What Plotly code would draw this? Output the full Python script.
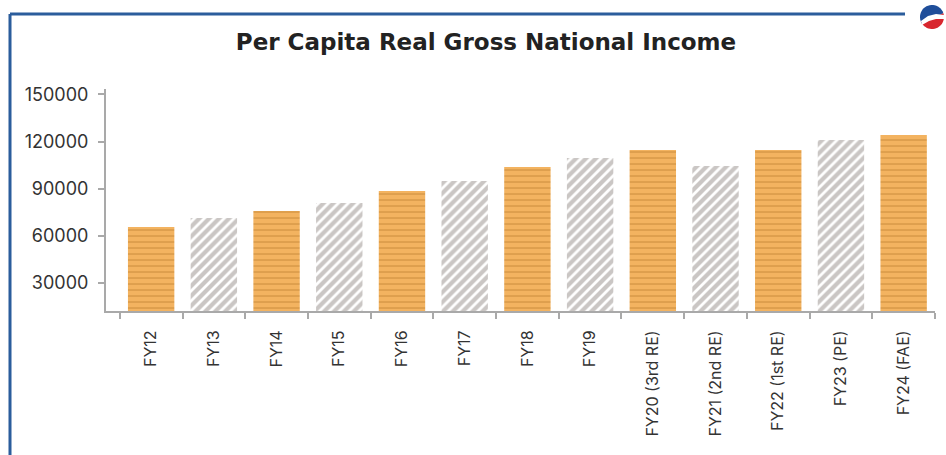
import math
import plotly.graph_objects as go

categories = ["FY12", "FY13", "FY14", "FY15", "FY16", "FY17", "FY18", "FY19",
              "FY20 (3rd RE)", "FY21 (2nd RE)", "FY22 (1st RE)", "FY23 (PE)", "FY24 (FAE)"]
values = [65500, 71300, 75700, 80800, 88500, 94900, 103800, 109500,
          114600, 104400, 114600, 121000, 124200]
y_ticks = [30000, 60000, 90000, 120000, 150000]

ORANGE = "#F3B360"
ORANGE_LINE = "#C68737"
GRAY = "#CAC6C4"
BLUE = "#2B5D9C"
AXIS = "#A9A9A9"

xs = list(range(len(categories)))
even = [i for i in xs if i % 2 == 0]
odd = [i for i in xs if i % 2 == 1]

fig = go.Figure()
fig.add_trace(go.Bar(
    x=even, y=[values[i] for i in even], width=0.74,
    marker=dict(color=ORANGE, line=dict(width=0),
                pattern=dict(shape="-", fgcolor=ORANGE_LINE, bgcolor=ORANGE,
                             size=6, solidity=0.15, fillmode="replace")),
    showlegend=False, hovertemplate="%{y}<extra></extra>",
))
fig.add_trace(go.Bar(
    x=odd, y=[values[i] for i in odd], width=0.74,
    marker=dict(color=GRAY, line=dict(width=0),
                pattern=dict(shape="/", fgcolor="#FFFFFF", bgcolor=GRAY,
                             size=7, solidity=0.4, fillmode="replace")),
    showlegend=False, hovertemplate="%{y}<extra></extra>",
))

L, R, T, B = 106, 11, 89, 144
W, H = 946, 455
pw, ph = W - L - R, H - T - B

def px(x):
    return (x - L) / pw

def py(y):
    return (H - B - y) / ph

def poly(points):
    s = "M " + " L ".join(f"{px(a):.5f},{py(b):.5f}" for a, b in points) + " Z"
    return s

# small logo (top-right)
cx, cy, r = 932, 17, 12
def arc(a0, a1, n=24, rad=r):
    return [(cx + rad * math.cos(math.radians(a0 + (a1 - a0) * k / n)),
             cy - rad * math.sin(math.radians(a0 + (a1 - a0) * k / n))) for k in range(n + 1)]

blue_pts = arc(20, 215)
red_pts = arc(200, 360 + 20)
white_band = [(cx - 11, cy + 4), (cx - 4, cy - 1), (cx + 4, cy - 3), (cx + 12, cy - 2),
              (cx + 12, cy + 2), (cx + 4, cy + 2), (cx - 3, cy + 4), (cx - 10, cy + 8)]

shapes = [
    dict(type="line", xref="paper", yref="paper", x0=px(10), x1=px(905),
         y0=py(14), y1=py(14), line=dict(color=BLUE, width=3)),
    dict(type="line", xref="paper", yref="paper", x0=px(10), x1=px(10),
         y0=py(14), y1=py(460), line=dict(color=BLUE, width=3)),
    dict(type="path", xref="paper", yref="paper", path=poly(red_pts),
         fillcolor="#D8262E", line=dict(width=0)),
    dict(type="path", xref="paper", yref="paper", path=poly(blue_pts),
         fillcolor="#1F4E9A", line=dict(width=0)),
    dict(type="path", xref="paper", yref="paper", path=poly(white_band),
         fillcolor="#FFFFFF", line=dict(width=0)),
]

fig.update_layout(
    width=W, height=H,
    margin=dict(l=L, r=R, t=T, b=B, pad=0),
    paper_bgcolor="white", plot_bgcolor="white",
    font=dict(family="Inter, Lato, sans-serif", color="#333333"),
    title=dict(text="<b>Per Capita Real Gross National Income</b>",
               x=486 / W, xanchor="center", y=1 - 42 / H, yanchor="middle",
               font=dict(size=23, color="#222222", family="DejaVu Sans, sans-serif")),
    barmode="overlay",
    shapes=shapes,
    xaxis=dict(
        range=[-0.72, 12.5], tickmode="array", tickvals=xs, ticktext=categories,
        tickangle=-90, ticks="outside", ticklen=11, tickcolor="rgba(0,0,0,0)",
        showline=True, linecolor=AXIS, linewidth=2,
        showgrid=False, zeroline=False, tickfont=dict(size=16, color="#333333"),
        minor=dict(ticks="outside", tick0=0.5, dtick=1, ticklen=6,
                   tickcolor=AXIS, tickwidth=2, showgrid=False),
    ),
    yaxis=dict(
        range=[12000, 153500], tickmode="array", tickvals=y_ticks,
        ticktext=[str(v) for v in y_ticks], ticks="outside", ticklen=6,
        tickcolor=AXIS, tickwidth=2, showline=True, linecolor=AXIS, linewidth=2,
        showgrid=False, zeroline=False, tickfont=dict(size=18, color="#333333"),
        ticklabelstandoff=6,
    ),
)

fig.write_html("out.html")
